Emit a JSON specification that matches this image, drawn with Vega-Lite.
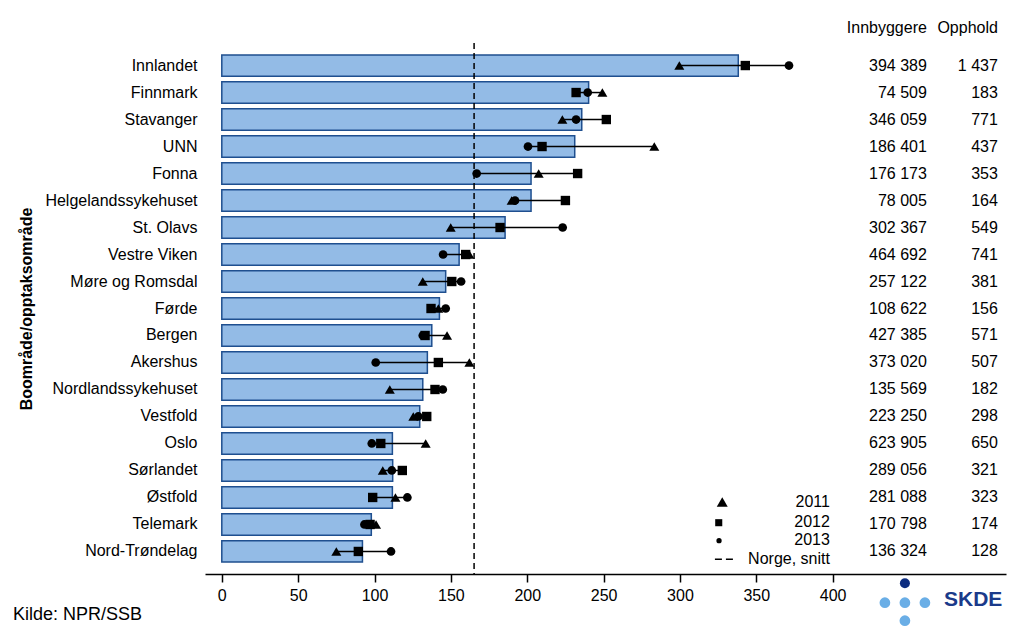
{
  "$schema": "https://vega.github.io/schema/vega-lite/v6.json",
  "width": 801,
  "height": 531,
  "autosize": "none",
  "padding": {"left": 205, "top": 43, "right": 18, "bottom": 66},
  "background": "white",
  "config": {
    "font": "Liberation Sans",
    "view": {"stroke": null},
    "axis": {"labelColor": "black", "titleColor": "black", "domainColor": "black", "tickColor": "black", "labelFont": "Liberation Sans", "titleFont": "Liberation Sans"}
  },
  "layer": [
    {
      "data": {"values": [
        {"region": "Innlandet", "b": 338.2, "y2011": 299.6, "y2012": 342.8, "y2013": 371.4, "innb": "394 389", "opph": "1 437"},
        {"region": "Finnmark", "b": 240.2, "y2011": 249.2, "y2012": 232.0, "y2013": 239.6, "innb": "74 509", "opph": "183"},
        {"region": "Stavanger", "b": 235.7, "y2011": 223.0, "y2012": 251.8, "y2013": 232.0, "innb": "346 059", "opph": "771"},
        {"region": "UNN", "b": 231.1, "y2011": 283.2, "y2012": 209.7, "y2013": 200.5, "innb": "186 401", "opph": "437"},
        {"region": "Fonna", "b": 202.5, "y2011": 207.5, "y2012": 233.0, "y2013": 166.9, "innb": "176 173", "opph": "353"},
        {"region": "Helgelandssykehuset", "b": 202.5, "y2011": 189.8, "y2012": 225.0, "y2013": 192.0, "innb": "78 005", "opph": "164"},
        {"region": "St. Olavs", "b": 185.5, "y2011": 149.9, "y2012": 182.2, "y2013": 223.2, "innb": "302 367", "opph": "549"},
        {"region": "Vestre Viken", "b": 155.4, "y2011": 162.1, "y2012": 159.7, "y2013": 144.9, "innb": "464 692", "opph": "741"},
        {"region": "Møre og Romsdal", "b": 146.6, "y2011": 131.6, "y2012": 150.6, "y2013": 156.7, "innb": "257 122", "opph": "381"},
        {"region": "Førde", "b": 142.5, "y2011": 141.8, "y2012": 137.0, "y2013": 146.6, "innb": "108 622", "opph": "156"},
        {"region": "Bergen", "b": 137.5, "y2011": 147.5, "y2012": 133.1, "y2013": 131.6, "innb": "427 385", "opph": "571"},
        {"region": "Akershus", "b": 134.6, "y2011": 162.1, "y2012": 141.8, "y2013": 100.8, "innb": "373 020", "opph": "507"},
        {"region": "Nordlandssykehuset", "b": 131.6, "y2011": 110.0, "y2012": 139.6, "y2013": 144.7, "innb": "135 569", "opph": "182"},
        {"region": "Vestfold", "b": 129.6, "y2011": 125.4, "y2012": 134.2, "y2013": 128.7, "innb": "223 250", "opph": "298"},
        {"region": "Oslo", "b": 111.7, "y2011": 133.5, "y2012": 104.1, "y2013": 98.2, "innb": "623 905", "opph": "650"},
        {"region": "Sørlandet", "b": 111.9, "y2011": 105.4, "y2012": 118.2, "y2013": 111.3, "innb": "289 056", "opph": "321"},
        {"region": "Østfold", "b": 111.7, "y2011": 113.7, "y2012": 98.8, "y2013": 121.5, "innb": "281 088", "opph": "323"},
        {"region": "Telemark", "b": 97.9, "y2011": 101.0, "y2012": 97.1, "y2013": 93.4, "innb": "170 798", "opph": "174"},
        {"region": "Nord-Trøndelag", "b": 92.1, "y2011": 75.0, "y2012": 89.4, "y2013": 110.8, "innb": "136 324", "opph": "128"}
      ]},
      "layer": [
        {
          "mark": {"type": "bar", "fill": "#93bbe6", "stroke": "#1f4f8f", "strokeWidth": 1.5},
          "encoding": {
            "y": {
              "field": "region", "type": "nominal", "sort": null,
              "scale": {
                "domain": ["Innlandet", "Finnmark", "Stavanger", "UNN", "Fonna", "Helgelandssykehuset", "St. Olavs", "Vestre Viken", "Møre og Romsdal", "Førde", "Bergen", "Akershus", "Nordlandssykehuset", "Vestfold", "Oslo", "Sørlandet", "Østfold", "Telemark", "Nord-Trøndelag"],
                "paddingInner": 0.21, "paddingOuter": 0.44
              },
              "axis": {"title": "Boområde/opptaksområde", "titleFontSize": 16, "titleFontWeight": "bold", "titlePadding": 10, "labelFontSize": 16, "labelPadding": 8, "ticks": false, "domain": false, "labelLimit": 300}
            },
            "x": {
              "field": "b", "type": "quantitative",
              "scale": {"domain": [-11, 513.5], "nice": false, "zero": false},
              "axis": {"values": [0, 50, 100, 150, 200, 250, 300, 350, 400], "title": null, "grid": false, "labelFontSize": 16, "tickSize": 8, "tickWidth": 1.5, "domainWidth": 1.5, "labelPadding": 5, "labelFlush": false}
            },
            "x2": {"datum": 0}
          }
        },
        {
          "transform": [
            {"fold": ["y2011", "y2012", "y2013"], "as": ["year", "value"]},
            {"aggregate": [{"op": "min", "field": "value", "as": "lo"}, {"op": "max", "field": "value", "as": "hi"}], "groupby": ["region"]}
          ],
          "mark": {"type": "rule", "color": "black", "strokeWidth": 1.5},
          "encoding": {
            "y": {"field": "region", "type": "nominal", "sort": null},
            "x": {"field": "lo", "type": "quantitative"},
            "x2": {"field": "hi"}
          }
        },
        {
          "transform": [{"fold": ["y2011", "y2012", "y2013"], "as": ["year", "value"]}],
          "mark": {"type": "point", "filled": true, "fill": "black", "opacity": 1, "strokeWidth": 0},
          "encoding": {
            "y": {"field": "region", "type": "nominal", "sort": null},
            "x": {"field": "value", "type": "quantitative"},
            "shape": {"field": "year", "type": "nominal", "scale": {"domain": ["y2011", "y2012", "y2013"], "range": ["triangle-up", "square", "circle"]}, "legend": null},
            "size": {"field": "year", "type": "nominal", "scale": {"domain": ["y2011", "y2012", "y2013"], "range": [100, 76, 72]}, "legend": null}
          }
        },
        {
          "mark": {"type": "text", "align": "right", "baseline": "middle", "fontSize": 16, "color": "black"},
          "encoding": {
            "y": {"field": "region", "type": "nominal", "sort": null},
            "x": {"datum": 461.7},
            "text": {"field": "innb"}
          }
        },
        {
          "mark": {"type": "text", "align": "right", "baseline": "middle", "fontSize": 16, "color": "black"},
          "encoding": {
            "y": {"field": "region", "type": "nominal", "sort": null},
            "x": {"datum": 508.2},
            "text": {"field": "opph"}
          }
        }
      ]
    },
    {
      "data": {"values": [{}]},
      "layer": [
        {
          "mark": {"type": "rule", "color": "black", "strokeWidth": 1.5, "strokeDash": [6, 4]},
          "encoding": {"x": {"datum": 165.2}}
        },
        {
          "mark": {"type": "text", "align": "right", "baseline": "middle", "fontSize": 16, "color": "black"},
          "encoding": {
            "x": {"datum": 461.7},
            "y": {"datum": 546, "scale": {"domain": [0, 531], "nice": false, "zero": false}, "axis": null},
            "text": {"value": "Innbyggere"}
          }
        },
        {
          "mark": {"type": "text", "align": "right", "baseline": "middle", "fontSize": 16, "color": "black"},
          "encoding": {"x": {"datum": 508.2}, "y": {"datum": 546}, "text": {"value": "Opphold"}}
        },
        {
          "mark": {"type": "point", "shape": "triangle-up", "filled": true, "fill": "black", "opacity": 1, "strokeWidth": 0, "size": 120},
          "encoding": {"x": {"datum": 327.7}, "y": {"datum": 72}}
        },
        {
          "mark": {"type": "point", "shape": "square", "filled": true, "fill": "black", "opacity": 1, "strokeWidth": 0, "size": 50},
          "encoding": {"x": {"datum": 325.4}, "y": {"datum": 51.3}}
        },
        {
          "mark": {"type": "point", "shape": "circle", "filled": true, "fill": "black", "opacity": 1, "strokeWidth": 0, "size": 28},
          "encoding": {"x": {"datum": 325.6}, "y": {"datum": 33.3}}
        },
        {
          "mark": {"type": "rule", "color": "black", "strokeWidth": 1.5, "strokeDash": [7, 4]},
          "encoding": {"x": {"datum": 322.9}, "x2": {"datum": 334.7}, "y": {"datum": 14.7}}
        },
        {
          "mark": {"type": "text", "align": "right", "baseline": "middle", "fontSize": 16, "color": "black"},
          "encoding": {"x": {"datum": 398.2}, "y": {"datum": 72}, "text": {"value": "2011"}}
        },
        {
          "mark": {"type": "text", "align": "right", "baseline": "middle", "fontSize": 16, "color": "black"},
          "encoding": {"x": {"datum": 398.2}, "y": {"datum": 52}, "text": {"value": "2012"}}
        },
        {
          "mark": {"type": "text", "align": "right", "baseline": "middle", "fontSize": 16, "color": "black"},
          "encoding": {"x": {"datum": 398.2}, "y": {"datum": 34}, "text": {"value": "2013"}}
        },
        {
          "mark": {"type": "text", "align": "right", "baseline": "middle", "fontSize": 16, "color": "black"},
          "encoding": {"x": {"datum": 398.2}, "y": {"datum": 15}, "text": {"value": "Norge, snitt"}}
        },
        {
          "mark": {"type": "text", "align": "left", "baseline": "middle", "fontSize": 18, "color": "black"},
          "encoding": {"x": {"datum": -136.8}, "y": {"datum": -41}, "text": {"value": "Kilde: NPR/SSB"}}
        },
        {
          "mark": {"type": "point", "shape": "circle", "filled": true, "fill": "#0d2d80", "opacity": 1, "strokeWidth": 0, "size": 100},
          "encoding": {"x": {"datum": 447.3}, "y": {"datum": -9.3}}
        },
        {
          "mark": {"type": "point", "shape": "circle", "filled": true, "fill": "#6aaee6", "opacity": 1, "strokeWidth": 0, "size": 115},
          "encoding": {"x": {"datum": 434.2}, "y": {"datum": -28.7}}
        },
        {
          "mark": {"type": "point", "shape": "circle", "filled": true, "fill": "#6aaee6", "opacity": 1, "strokeWidth": 0, "size": 115},
          "encoding": {"x": {"datum": 447.3}, "y": {"datum": -28.7}}
        },
        {
          "mark": {"type": "point", "shape": "circle", "filled": true, "fill": "#6aaee6", "opacity": 1, "strokeWidth": 0, "size": 115},
          "encoding": {"x": {"datum": 460.4}, "y": {"datum": -28.7}}
        },
        {
          "mark": {"type": "point", "shape": "circle", "filled": true, "fill": "#6aaee6", "opacity": 1, "strokeWidth": 0, "size": 115},
          "encoding": {"x": {"datum": 447.3}, "y": {"datum": -46.7}}
        },
        {
          "mark": {"type": "text", "align": "left", "baseline": "middle", "fontSize": 21, "fontWeight": "bold", "color": "#1a3a8a"},
          "encoding": {"x": {"datum": 472.9}, "y": {"datum": -26}, "text": {"value": "SKDE"}}
        }
      ]
    }
  ],
  "resolve": {"scale": {"y": "independent"}}
}
